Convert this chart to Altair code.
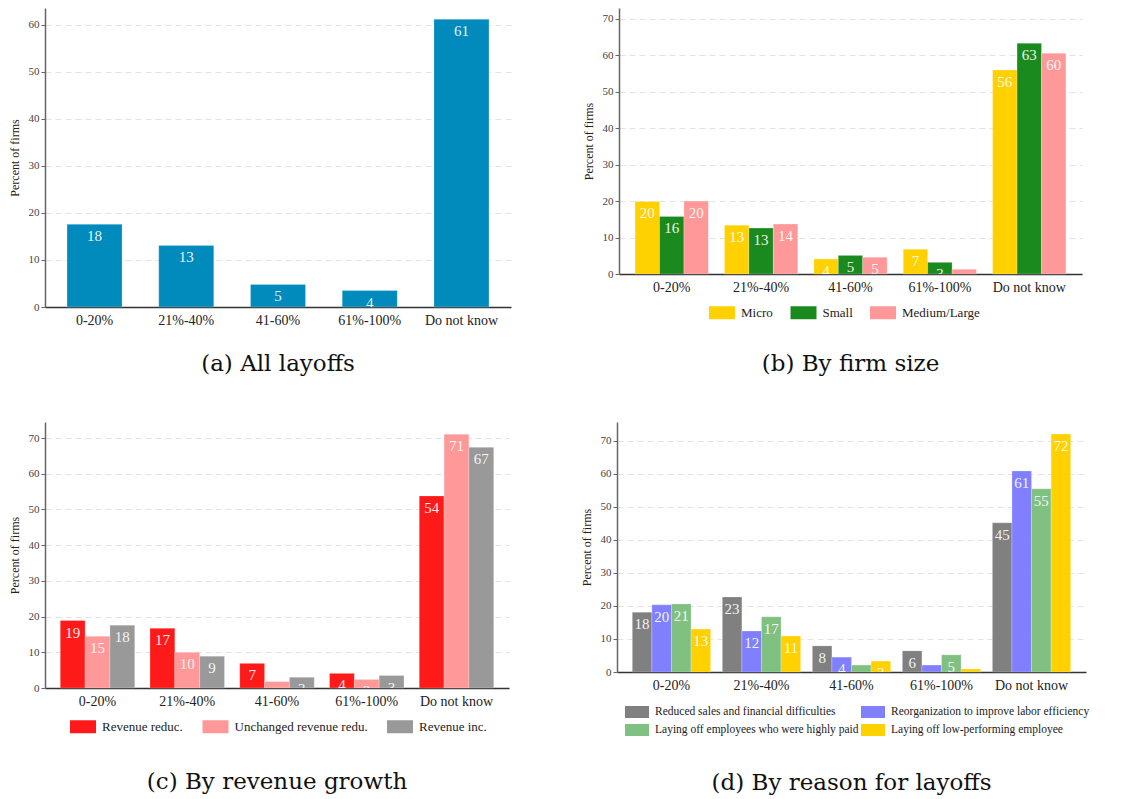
import altair as alt
import pandas as pd

cats = ["0-20%", "21%-40%", "41-60%", "61%-100%", "Do not know"]

# (a) All layoffs
a_vals = [17.6, 13.1, 4.8, 3.5, 61.2]
a_labels = ["18", "13", "5", "4", "61"]

# (b) By firm size
b_series = ["Micro", "Small", "Medium/Large"]
b_colors = ["#FFD100", "#1A8A1F", "#FF9999"]
b_micro = [19.9, 13.4, 4.1, 6.8, 56.0]
b_small = [15.8, 12.6, 5.1, 3.2, 63.3]
b_medium = [20.0, 13.7, 4.6, 1.3, 60.6]
b_micro_lab = ["20", "13", "4", "7", "56"]
b_small_lab = ["16", "13", "5", "3", "63"]
b_medium_lab = ["20", "14", "5", "1", "60"]

# (c) By revenue growth
c_series = ["Revenue reduc.", "Unchanged revenue redu.", "Revenue inc."]
c_colors = ["#FF1A1A", "#FF9999", "#999999"]
c_red = [18.9, 16.7, 6.9, 4.1, 53.8]
c_unch = [14.5, 10.0, 1.8, 2.4, 71.1]
c_inc = [17.6, 8.9, 3.0, 3.5, 67.4]
c_red_lab = ["19", "17", "7", "4", "54"]
c_unch_lab = ["15", "10", "2", "2", "71"]
c_inc_lab = ["18", "9", "3", "3", "67"]

# (d) By reason for layoffs
d_series = ["Reduced sales and financial difficulties",
            "Reorganization to improve labor efficiency",
            "Laying off employees who were highly paid",
            "Laying off low-performing employee"]
d_colors = ["#808080", "#8080FF", "#80C080", "#FFD100"]
d_sales = [18.1, 22.7, 7.9, 6.4, 45.1]
d_reorg = [20.3, 12.4, 4.5, 2.1, 60.8]
d_paid = [20.6, 16.7, 2.1, 5.2, 55.4]
d_lowperf = [13.0, 10.9, 3.3, 0.9, 72.0]
d_sales_lab = ["18", "23", "8", "6", "45"]
d_reorg_lab = ["20", "12", "4", "2", "61"]
d_paid_lab = ["21", "17", "2", "5", "55"]
d_lowperf_lab = ["13", "11", "3", "1", "72"]

FONT = "Liberation Serif"
CAP_FONT = "DejaVu Serif"
RECT = "M-2,-1H2V1H-2Z"


def make_df(series, vals, labs):
    rows = []
    for s, v, l in zip(series, vals, labs):
        for c, vv, ll in zip(cats, v, l):
            rows.append({"cat": c, "series": s, "value": vv, "label": ll})
    return pd.DataFrame(rows)


def y_axis(ticks):
    return alt.Axis(values=ticks, title="Percent of firms", titleFontSize=12,
                    titleFontWeight="normal", titleColor="#222", titlePadding=7,
                    labelFontSize=11, labelColor="#444", labelPadding=2,
                    tickSize=4, tickColor="#666", domainColor="#666", domainWidth=1.5,
                    grid=True, gridDash=[6, 4], gridColor="#e3e3e3")


x_axis = alt.Axis(title=None, labelAngle=0, labelFontSize=14, labelColor="#222",
                  labelPadding=6, ticks=False, domainColor="#333", domainWidth=1.5,
                  grid=False)


def panel(df, series, colors, width, height, ymax, ticks, pin, pout, caption,
          toff, legend=None):
    xenc = alt.X("cat:N", sort=cats, axis=x_axis,
                 scale=alt.Scale(paddingInner=pin, paddingOuter=pout))
    yenc = alt.Y("value:Q", axis=y_axis(ticks),
                 scale=alt.Scale(domain=[0, ymax], nice=False, zero=True))
    enc = dict(x=xenc, y=yenc)
    if series is not None:
        enc["xOffset"] = alt.XOffset("series:N", sort=series)
        color = alt.Color("series:N", scale=alt.Scale(domain=series, range=colors),
                          legend=legend)
    else:
        color = alt.value(colors[0])
    bars = alt.Chart(df).mark_bar(stroke="white", strokeWidth=0.4, strokeOpacity=0.6).encode(
        color=color, **enc)
    text = alt.Chart(df).mark_text(baseline="top", dy=5, font=FONT, fontSize=15,
                                   color="white", opacity=0.9, clip=True).encode(
        text="label:N", **enc)
    return alt.layer(bars, text).properties(
        width=width, height=height,
        title=alt.TitleParams(caption, orient="bottom", frame="group", anchor="middle",
                              font=CAP_FONT, fontSize=23, fontWeight="normal",
                              color="#111", offset=toff))


def legend(x, y, h, fsize, colpad, columns=None, rowpad=4):
    # symbol is a 2:1 rectangle of height h; the legend lays it out in an h x h box
    kw = dict(title=None, orient="none", legendX=x + h / 2, legendY=y,
              direction="horizontal",
              symbolType=RECT, symbolSize=h * h, symbolStrokeWidth=0,
              symbolOpacity=1,
              labelFont=FONT, labelFontSize=fsize, labelColor="#222", labelLimit=400,
              labelOffset=6 + h / 2, columnPadding=colpad + h / 2, rowPadding=rowpad,
              padding=0)
    if columns:
        kw["columns"] = columns
    return alt.Legend(**kw)


df_a = pd.DataFrame({"cat": cats, "value": a_vals, "label": a_labels})
df_b = make_df(b_series, [b_micro, b_small, b_medium], [b_micro_lab, b_small_lab, b_medium_lab])
df_c = make_df(c_series, [c_red, c_unch, c_inc], [c_red_lab, c_unch_lab, c_inc_lab])
df_d = make_df(d_series, [d_sales, d_reorg, d_paid, d_lowperf],
               [d_sales_lab, d_reorg_lab, d_paid_lab, d_lowperf_lab])

t60 = [0, 10, 20, 30, 40, 50, 60]
t70 = [0, 10, 20, 30, 40, 50, 60, 70]

pa = panel(df_a, None, ["#008BBC"], 466, 299, 63.6, t60, 0.4, 0.24,
           "(a) All layoffs", 26)
pb = panel(df_b, b_series, b_colors, 463, 266, 73, t70, 0.18, 0.18,
           "(b) By firm size", 33,
           legend(90, 298, 13, 13, 10))
pc = panel(df_c, c_series, c_colors, 464, 266, 74.5, t70, 0.17, 0.17,
           "(c) By revenue growth", 37,
           legend(25, 298, 13, 13, 12))
pd_ = panel(df_d, d_series, d_colors, 469, 250, 75.6, t70, 0.13, 0.17,
            "(d) By reason for layoffs", 36,
            legend(8, 284, 12, 11.5, -4, columns=2, rowpad=6))


def indep(c):
    return c.resolve_scale(x="independent", y="independent", color="independent",
                           xOffset="independent").resolve_legend(color="independent")


row1 = indep(alt.hconcat(pa, pb, spacing=71))
row2 = indep(alt.hconcat(pc, pd_, spacing=71))

chart = indep(alt.vconcat(row1, row2, spacing=46)).properties(
    padding={"left": 0, "top": 0, "right": 0, "bottom": 0}
).configure(font=FONT).configure_view(stroke=None)

chart.save("out.html", embed_options={"renderer": "svg", "actions": False})
